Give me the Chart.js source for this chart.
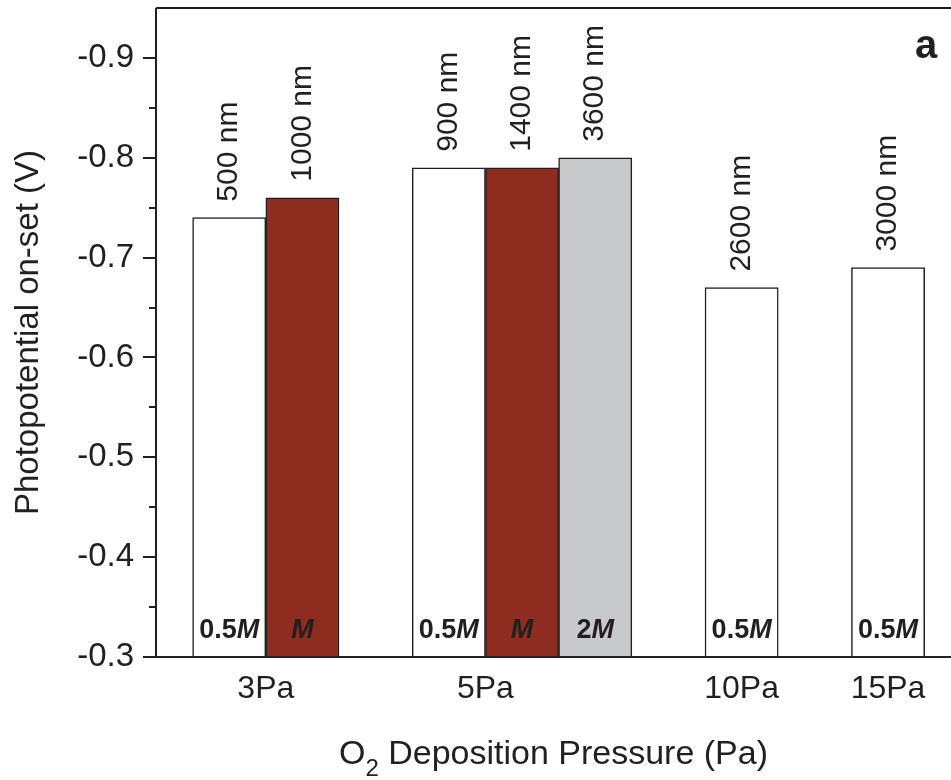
<!DOCTYPE html>
<html>
<head>
<meta charset="utf-8">
<script src="https://cdn.jsdelivr.net/npm/chart.js@4/dist/chart.umd.min.js"></script>
<style>
  html, body { margin: 0; padding: 0; background: #ffffff; }
  canvas { display: block; }
</style>
</head>
<body>
<canvas id="chart" width="951" height="780"></canvas>
<script>
// O2 deposition pressure of each film, in drawing order
const samplePressure = ['3Pa', '3Pa', '5Pa', '5Pa', '5Pa', '10Pa', '15Pa'];
// precursor concentration of each film
const sampleConc = ['0.5M', 'M', '0.5M', 'M', '2M', '0.5M', '0.5M'];
// film thickness of each film
const sampleThickness = ['500 nm', '1000 nm', '900 nm', '1400 nm', '3600 nm', '2600 nm', '3000 nm'];
// photopotential on-set (V)
const onsetV = [-0.74, -0.76, -0.79, -0.79, -0.80, -0.67, -0.69];
// y-axis tick labels
const yTickValues = [-0.9, -0.8, -0.7, -0.6, -0.5, -0.4, -0.3];

const FONT = "'Liberation Sans', Arial, Helvetica, sans-serif";
const INK = '#231f20';
const concColor = { '0.5M': '#ffffff', 'M': '#8e2c20', '2M': '#c8c9cb' };

// Each bar gets one slot on the x-axis; an empty slot separates pressure groups.
const slots = [];
{
  let s = 0, prev = null;
  samplePressure.forEach(p => {
    s += (prev !== null && p !== prev) ? 2 : 1;
    slots.push(s);
    prev = p;
  });
}
// Pressure labels sit under the first pair of bars of each group.
const pressures = [...new Set(samplePressure)];
const pressureTicks = pressures.map(p => {
  const idx = samplePressure.map((q, i) => q === p ? i : -1).filter(i => i >= 0);
  const first = slots[idx[0]];
  return first + (Math.min(idx.length, 2) - 1) / 2;
});

const barData = onsetV.map((v, i) => ({ x: slots[i], y: v }));

// Axis frame, tick marks and in-plot text
const decorations = {
  id: 'decorations',
  afterDatasetsDraw(chart) {
    const { ctx } = chart;
    const meta = chart.getDatasetMeta(0);
    ctx.save();
    ctx.fillStyle = INK;
    meta.data.forEach((bar, i) => {
      // thickness above each bar, reading upward
      ctx.save();
      ctx.translate(bar.x, bar.y - 16);
      ctx.rotate(-Math.PI / 2);
      ctx.font = `30px ${FONT}`;
      ctx.textAlign = 'left';
      ctx.textBaseline = 'middle';
      ctx.fillText(sampleThickness[i], 0, 0);
      ctx.restore();

      // concentration near the base: number upright, M italic
      const c = sampleConc[i];
      const num = c.replace('M', '');
      ctx.textBaseline = 'middle';
      ctx.textAlign = 'left';
      ctx.font = `bold 27px ${FONT}`;
      const wNum = ctx.measureText(num).width;
      ctx.font = `italic bold 27px ${FONT}`;
      const wM = ctx.measureText('M').width;
      const x0 = bar.x - (wNum + wM) / 2;
      const yText = chart.scales.y.getPixelForValue(-0.3) - 26;
      ctx.font = `bold 27px ${FONT}`;
      ctx.fillText(num, x0, yText);
      ctx.font = `italic bold 27px ${FONT}`;
      ctx.fillText('M', x0 + wNum, yText);
    });
    ctx.restore();
  },
  afterDraw(chart) {
    const { ctx, chartArea: a, scales: { y } } = chart;
    ctx.save();
    ctx.strokeStyle = INK;
    ctx.lineWidth = 2;
    ctx.beginPath();
    // left axis
    ctx.moveTo(a.left, a.top);
    ctx.lineTo(a.left, a.bottom);
    // bottom axis
    ctx.moveTo(a.left - 13, a.bottom);
    ctx.lineTo(a.right, a.bottom);
    // top frame
    ctx.moveTo(a.left, a.top);
    ctx.lineTo(a.right, a.top);
    // major and minor y ticks
    for (let v = -0.9; v <= -0.3 + 1e-9; v += 0.1) {
      const py = Math.round(y.getPixelForValue(v));
      ctx.moveTo(a.left - 13, py);
      ctx.lineTo(a.left, py);
    }
    for (let v = -0.85; v <= -0.35 + 1e-9; v += 0.1) {
      const py = Math.round(y.getPixelForValue(v));
      ctx.moveTo(a.left - 7, py);
      ctx.lineTo(a.left, py);
    }
    ctx.stroke();

    // x-axis title with subscript
    ctx.fillStyle = INK;
    ctx.textBaseline = 'alphabetic';
    ctx.textAlign = 'left';
    const big = `34px ${FONT}`, sub = `24px ${FONT}`;
    ctx.font = big;
    const wO = ctx.measureText('O').width;
    const rest = ' Deposition Pressure (Pa)';
    const wRest = ctx.measureText(rest).width;
    ctx.font = sub;
    const w2 = ctx.measureText('2').width;
    const total = wO + w2 + wRest;
    let x = (a.left + a.right) / 2 - total / 2;
    const base = 764;
    ctx.font = big;
    ctx.fillText('O', x, base);
    x += wO;
    ctx.font = sub;
    ctx.fillText('2', x, base + 12);
    x += w2;
    ctx.font = big;
    ctx.fillText(rest, x, base);

    // panel letter
    ctx.font = `bold 40px ${FONT}`;
    ctx.textAlign = 'center';
    ctx.fillText('a', 926, 58);
    ctx.restore();
  }
};

new Chart(document.getElementById('chart'), {
  type: 'bar',
  data: {
    datasets: [{
      data: barData,
      backgroundColor: sampleConc.map(c => concColor[c]),
      borderColor: INK,
      borderWidth: 1.5,
      grouped: false,
      categoryPercentage: 1,
      barPercentage: 1
    }]
  },
  options: {
    responsive: false,
    animation: false,
    layout: { padding: { top: 8, right: 0, bottom: 0, left: 0 } },
    plugins: { legend: { display: false }, tooltip: { enabled: false } },
    scales: {
      x: {
        type: 'linear',
        offset: false,
        min: 0,
        max: 10.86,
        grid: { display: false, drawTicks: false, offset: false },
        border: { display: false },
        afterBuildTicks(scale) { scale.ticks = pressureTicks.map(v => ({ value: v })); },
        afterFit(scale) {
          scale.height = 123;
          scale.paddingLeft = 0;
          scale.paddingRight = 0;
        },
        ticks: {
          autoSkip: false,
          maxRotation: 0,
          padding: 13,
          color: INK,
          font: { family: FONT, size: 32 },
          callback: (v, i) => pressures[i]
        },
        title: { display: false }
      },
      y: {
        type: 'linear',
        reverse: true,
        min: -0.95,
        max: -0.3,
        grid: { display: false, drawTicks: false },
        border: { display: false },
        afterBuildTicks(scale) { scale.ticks = yTickValues.map(v => ({ value: v })); },
        afterFit(scale) {
          scale.width = 156;
          scale.paddingTop = 0;
          scale.paddingBottom = 0;
        },
        ticks: {
          padding: 22,
          color: INK,
          font: { family: FONT, size: 33 },
          callback: v => v.toFixed(1)
        },
        title: {
          display: true,
          text: 'Photopotential on-set (V)',
          color: INK,
          font: { family: FONT, size: 33 },
          padding: { top: 9, bottom: 0 }
        }
      }
    }
  },
  plugins: [decorations]
});
</script>
</body>
</html>
